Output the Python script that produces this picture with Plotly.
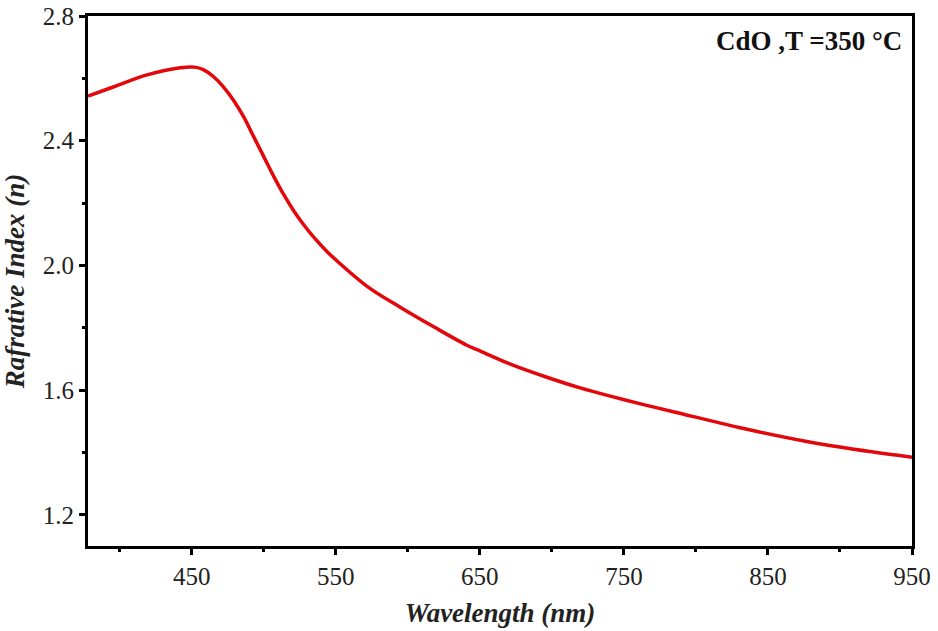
import plotly.graph_objects as go

wavelength = [378, 396, 419, 442, 452, 458, 465, 472, 479, 486, 493, 500, 507, 514, 521,
              528, 535, 544, 549, 572, 595, 618, 641, 650, 673, 696, 719, 742, 765, 785,
              830, 876, 922, 950]
refractive_index = [2.543, 2.573, 2.611, 2.634, 2.636, 2.628, 2.606, 2.573, 2.530, 2.477,
                    2.413, 2.349, 2.285, 2.226, 2.174, 2.129, 2.089, 2.044, 2.022, 1.932,
                    1.865, 1.803, 1.744, 1.726, 1.680, 1.642, 1.608, 1.579, 1.552, 1.530,
                    1.480, 1.436, 1.402, 1.385]

FONT = "Liberation Serif, Times New Roman, serif"

fig = go.Figure()
fig.add_trace(go.Scatter(
    x=wavelength, y=refractive_index, mode="lines",
    line=dict(color="#e3060b", width=3.5, shape="spline", smoothing=1.0),
    showlegend=False,
))

axis_common = dict(
    showline=True, linecolor="black", linewidth=3, mirror=True,
    ticks="outside", ticklen=6, tickwidth=2.5, tickcolor="black",
    showgrid=False, zeroline=False, automargin=False,
    tickfont=dict(family=FONT, size=25, color="#222"),
)

fig.update_xaxes(
    range=[378, 950], tick0=450, dtick=100,
    minor=dict(ticks="outside", dtick=50, tick0=400, ticklen=3, tickwidth=2.5, tickcolor="black"),
    title=dict(text="<b><i>Wavelength (nm)</i></b>", font=dict(family=FONT, size=27, color="#222")),
    **axis_common,
)
fig.update_yaxes(
    range=[1.1, 2.8], tick0=1.2, dtick=0.4, tickformat=".1f",
    minor=dict(ticks="outside", dtick=0.2, tick0=1.2, ticklen=3, tickwidth=2.5, tickcolor="black"),
    title=dict(text="<b><i>Rafrative Index (n)</i></b>", font=dict(family=FONT, size=27, color="#222")),
    **axis_common,
)

fig.add_annotation(
    text="<b>CdO ,T =350 °C</b>", xref="paper", yref="paper",
    x=0.99, y=0.985, xanchor="right", yanchor="top", showarrow=False,
    font=dict(family=FONT, size=27, color="#111"),
)

fig.update_layout(
    width=938, height=631,
    margin=dict(l=88, r=26, t=16, b=85),
    plot_bgcolor="white", paper_bgcolor="white",
)

fig.write_html("out.html", config={"displayModeBar": False},
               post_script="document.body.style.margin='0';document.body.style.overflow='hidden';")
